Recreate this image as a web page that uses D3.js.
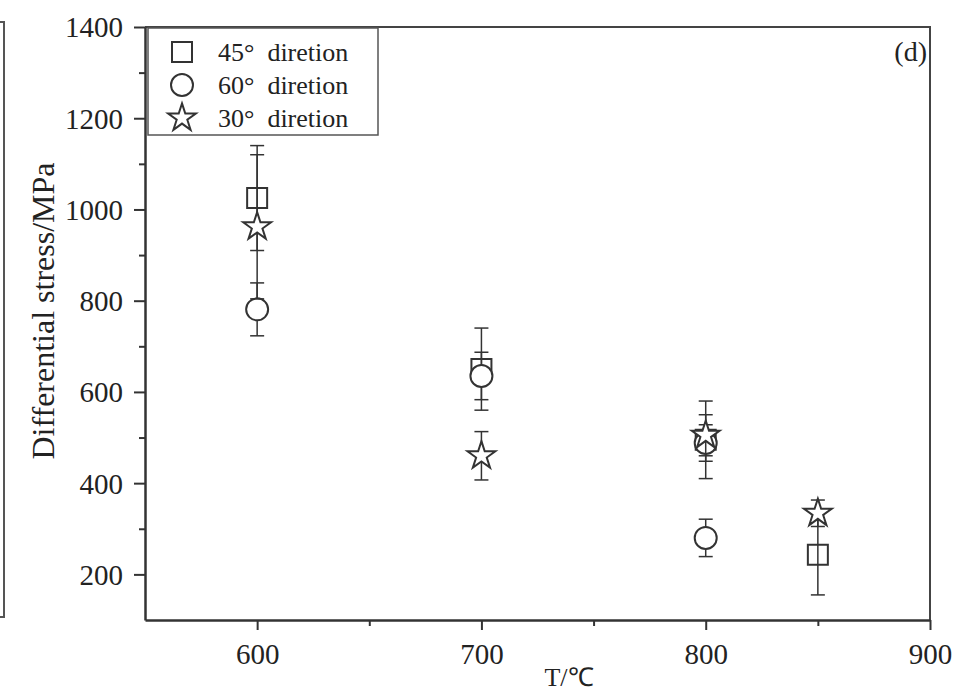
<!DOCTYPE html>
<html>
<head>
<meta charset="utf-8">
<script src="https://cdn.jsdelivr.net/npm/d3@7"></script>
<style>
  body { margin: 0; background: #fff; }
  svg { display: block; }
  text { font-family: "Liberation Serif", "Times New Roman", serif; fill: #222; }
</style>
</head>
<body>
<div id="chart"></div>
<script>
// data (stress in MPa, error = half bar length)
const temps45 = [600, 700, 800, 850];
const stress45 = [1025, 650, 495, 243];
const err45 = [115, 90, 85, 88];

const temps60 = [600, 700, 800, 800];
const stress60 = [781, 635, 488, 280];
const err60 = [58, 52, 40, 41];

const temps30 = [600, 700, 800, 850];
const stress30 = [962, 460, 505, 334];
const err30 = [158, 53, 45, 29];

const seriesNames = ["45\u00b0  diretion", "60\u00b0  diretion", "30\u00b0  diretion"];
const symbolTypes = ["square", "circle", "star"];

const xTicks = [600, 700, 800, 900];
const xMinor = [650, 750, 850];
const yTicks = [200, 400, 600, 800, 1000, 1200, 1400];
const yMinor = [300, 500, 700, 900, 1100, 1300];

const W = 971, H = 691;
const margin = { top: 27, right: 41, bottom: 71, left: 145 };
const width = W - margin.left - margin.right;
const height = H - margin.top - margin.bottom;
const ink = "#333";
const serif = '"Liberation Serif", "Times New Roman", serif';

const svg = d3.select("#chart").append("svg")
  .attr("width", W)
  .attr("height", H);

// fragment of the neighbouring panel on the left edge
svg.append("path")
  .attr("d", "M0,22H4V617H0")
  .attr("fill", "none")
  .attr("stroke", "#555")
  .attr("stroke-width", 2);

const g = svg.append("g")
  .attr("transform", `translate(${margin.left},${margin.top})`);

const x = d3.scaleLinear().domain([550, 900]).range([0, width]);
const y = d3.scaleLinear().domain([100, 1400]).range([height, 0]);

// frame top and right
g.append("path")
  .attr("d", `M0,0H${width}V${height}`)
  .attr("fill", "none")
  .attr("stroke", "#444")
  .attr("stroke-width", 2);

// symbol paths
function symbolPath(type) {
  if (type === "square") return d3.symbol(d3.symbolSquare, 400)();
  if (type === "circle") return d3.symbol(d3.symbolCircle, 380)();
  return d3.symbol(d3.symbolStar, 240)();
}

const series = [
  { t: temps45, v: stress45, e: err45 },
  { t: temps60, v: stress60, e: err60 },
  { t: temps30, v: stress30, e: err30 }
].map((s, k) => ({
  type: symbolTypes[k],
  points: s.t.map((t, i) => ({ t: t, v: s.v[i], e: s.e[i] }))
}));

const capW = 7;
series.forEach(s => {
  const sg = g.append("g");
  const bars = sg.selectAll(".err")
    .data(s.points)
    .join("g")
    .attr("class", "err")
    .attr("stroke", ink)
    .attr("stroke-width", 1.5);
  bars.append("line")
    .attr("x1", d => x(d.t)).attr("x2", d => x(d.t))
    .attr("y1", d => y(d.v + d.e)).attr("y2", d => y(d.v - d.e));
  bars.append("line")
    .attr("x1", d => x(d.t) - capW).attr("x2", d => x(d.t) + capW)
    .attr("y1", d => y(d.v + d.e)).attr("y2", d => y(d.v + d.e));
  bars.append("line")
    .attr("x1", d => x(d.t) - capW).attr("x2", d => x(d.t) + capW)
    .attr("y1", d => y(d.v - d.e)).attr("y2", d => y(d.v - d.e));

  sg.selectAll(".mark")
    .data(s.points)
    .join("path")
    .attr("class", "mark")
    .attr("d", symbolPath(s.type))
    .attr("transform", d => `translate(${x(d.t)},${y(d.v)})`)
    .attr("fill", s.type === "square" ? "none" : "#fff")
    .attr("stroke", ink)
    .attr("stroke-width", 2);
});

// axes
const fmt = d3.format("d");
const xAxis = g.append("g")
  .attr("transform", `translate(0,${height})`)
  .call(d3.axisBottom(x).tickValues(xTicks).tickFormat(fmt).tickSize(10).tickSizeOuter(0).tickPadding(13));
const xAxisMinor = g.append("g")
  .attr("transform", `translate(0,${height})`)
  .call(d3.axisBottom(x).tickValues(xMinor).tickSize(6).tickFormat(""));
const yAxis = g.append("g")
  .call(d3.axisLeft(y).tickValues(yTicks).tickFormat(fmt).tickSize(11).tickSizeOuter(0).tickPadding(11));
const yAxisMinor = g.append("g")
  .call(d3.axisLeft(y).tickValues(yMinor).tickSize(6).tickFormat(""));

[xAxisMinor, yAxisMinor].forEach(a => a.select(".domain").remove());
[xAxis, yAxis, xAxisMinor, yAxisMinor].forEach(a => {
  a.attr("font-family", serif).attr("font-size", 29);
  a.selectAll("line").attr("stroke", ink).attr("stroke-width", 2);
  a.selectAll(".domain").attr("stroke", ink).attr("stroke-width", 2.5);
  a.selectAll("text")
    .style("font-family", serif)
    .style("font-size", "29px")
    .attr("fill", "#222");
});
yAxis.selectAll("text").attr("dy", "0.34em");

// axis titles
svg.append("text")
  .attr("transform", "translate(54,311) rotate(-90)")
  .attr("text-anchor", "middle")
  .style("font-size", "32px")
  .text("Differential stress/MPa");

svg.append("text")
  .attr("x", 569)
  .attr("y", 686)
  .attr("text-anchor", "middle")
  .style("font-size", "26px")
  .text("T/\u2103");

// panel tag
g.append("text")
  .attr("x", width - 3)
  .attr("y", 34)
  .attr("text-anchor", "end")
  .style("font-size", "28px")
  .text("(d)");

// legend
const legend = g.append("g").attr("transform", "translate(3,1)");
legend.append("rect")
  .attr("width", 230)
  .attr("height", 107)
  .attr("fill", "#fff")
  .attr("stroke", "#555")
  .attr("stroke-width", 1.5);

const rows = legend.selectAll(".row")
  .data(seriesNames)
  .join("g")
  .attr("class", "row")
  .attr("transform", (d, i) => `translate(0,${24 + i * 33})`);

rows.append("path")
  .attr("d", (d, i) => symbolPath(symbolTypes[i]))
  .attr("transform", "translate(34,0)")
  .attr("fill", "none")
  .attr("stroke", ink)
  .attr("stroke-width", 2);

rows.append("text")
  .attr("x", 70)
  .attr("dy", "0.34em")
  .style("font-size", "26px")
  .style("white-space", "pre")
  .text(d => d);

// keep the left axis above the legend box
yAxis.raise();
</script>
</body>
</html>
